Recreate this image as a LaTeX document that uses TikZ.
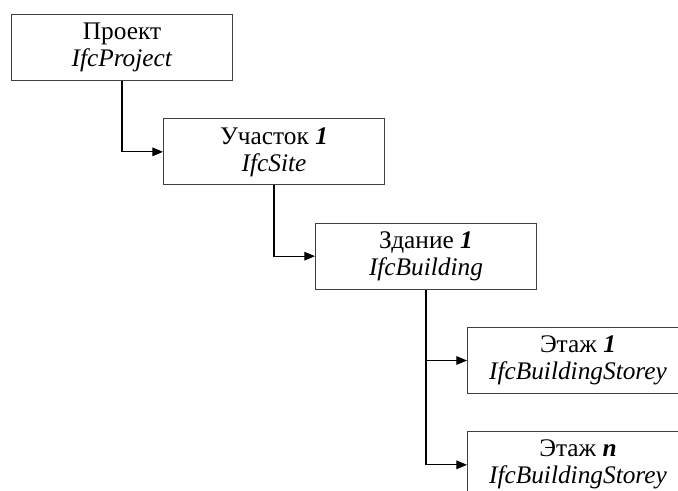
\documentclass[tikz,border=0pt]{standalone}
\usepackage{fontspec}
\setmainfont{Liberation Serif}
\usetikzlibrary{arrows.meta, positioning}
\tikzstyle{level} = [
    rectangle,
    minimum width=165.75pt,
    minimum height=49.5pt,
    inner sep=0pt,
    align=center,
    draw=black!75,
    line width=0.75pt,
    font=\fontsize{19}{20.25}\selectfont
]
\tikzstyle{arrow} = [
    line width=0.8pt,
    -{Triangle[length=8pt,width=6.5pt]}
]

\begin{document}
\begin{tikzpicture}[x=0.75pt, y=-0.75pt, node distance=28pt]

\useasboundingbox (0,0) rectangle (678,490);
\clip (0,0) rectangle (678,490);

\node (project)  [level, anchor=north west] at (11,14) {Проект\\\textit{IfcProject}};
\node (site)     [level, below=of project, xshift=114pt] {Участок \textbf{\textit{1}}\\\textit{IfcSite}};
\node (building) [level, below=of site, xshift=114pt] {Здание \textbf{\textit{1}}\\\textit{IfcBuilding}};
\node (storey1)  [level, below=of building, xshift=114pt] {Этаж \textbf{\textit{1}}\\\textit{IfcBuildingStorey}};
\node (storeyn)  [level, below=of storey1] {Этаж \textbf{\textit{n}}\\\textit{IfcBuildingStorey}};

\draw[arrow] (project) |- (site);
\draw[arrow] (site) |- (building);
\draw[arrow] (building) |- (storey1);
\draw[arrow] (building) |- (storeyn);

\end{tikzpicture}
\end{document}
